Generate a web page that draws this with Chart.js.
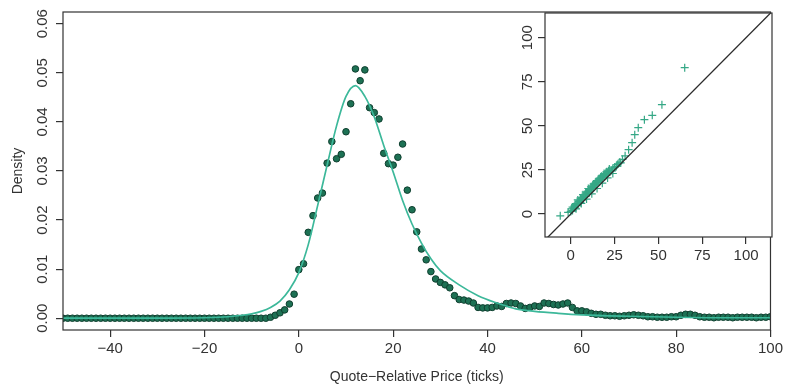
<!DOCTYPE html>
<html>
<head>
<meta charset="utf-8">
<script src="https://cdn.jsdelivr.net/npm/chart.js@4.4.0/dist/chart.umd.min.js"></script>
<style>
  html, body { margin: 0; padding: 0; background: #fff; }
  #wrap { position: relative; width: 786px; height: 384px; }
  #main { position: absolute; left: 0; top: 0; }
  #inset { position: absolute; left: 500px; top: 0; }
</style>
</head>
<body>
<div id="wrap">
  <canvas id="main" width="786" height="384"></canvas>
  <canvas id="inset" width="286" height="275"></canvas>
</div>
<script>
// observed density, one point per tick from -50 to 100
const priceStart = -50;
const density = [
  0, 0, 0, 0, 0, 0, 0, 0, 0, 0,
  0, 0, 0, 0, 0, 0, 0, 0, 0, 0,
  0, 0, 0, 0, 0, 0, 0, 0, 0, 0,
  0, 0, 0, 0, 0, 0, 0, 0, 0, 0,
  0, 0, 0, 0,
  0.0002, 0.0006, 0.0011, 0.0017, 0.0029, 0.0049,
  0.0099, 0.0111, 0.0175, 0.0209, 0.0245, 0.0255, 0.0316, 0.0360, 0.0325, 0.0334,
  0.0380, 0.0437, 0.0508, 0.0484, 0.0506, 0.0429, 0.0419, 0.0406, 0.0336, 0.0315,
  0.0312, 0.0328, 0.0355, 0.0261, 0.0221, 0.0176, 0.0141, 0.0119, 0.0095, 0.0080,
  0.0073, 0.0068, 0.0062, 0.0046, 0.0038, 0.0037, 0.0035, 0.0031, 0.0022, 0.0021,
  0.0021, 0.0022, 0.0025, 0.0024, 0.0030, 0.0031, 0.0030, 0.0025, 0.0020, 0.0022,
  0.0025, 0.0024, 0.0031, 0.0030, 0.0028, 0.0027, 0.0029, 0.0031, 0.0022, 0.0015,
  0.0015, 0.0013, 0.0010, 0.0008, 0.0008, 0.0006, 0.0005, 0.0005, 0.0004, 0.0005,
  0.0006, 0.0007, 0.0006, 0.0005, 0.0003, 0.0003, 0.0002, 0.0002, 0.0002, 0.0003,
  0.0003, 0.0006, 0.0008, 0.0008, 0.0006, 0.0003, 0.0002, 0.0002, 0.0001, 0.0002,
  0.0002, 0.0002, 0.0001, 0.0002, 0.0002, 0.0002, 0.0002, 0.0001, 0.0002, 0.0002,
  0.0003
];
const priceX = density.map((d, i) => priceStart + i);

// fitted density curve
const fitX = [-50, -30, -20, -15, -12, -10, -8, -6, -4, -2, 0, 2, 4, 6, 8, 10, 12, 14, 16, 18,
  20, 22, 24, 26, 28, 30, 34, 38, 42, 46, 50, 55, 60, 70, 80, 90, 100];
const fitY = [0, 0, 0.0001, 0.0003, 0.0006, 0.0009, 0.0014, 0.0022, 0.0035, 0.0058, 0.0093,
  0.0150, 0.0230, 0.0312, 0.0392, 0.0452, 0.0474, 0.0452, 0.0410, 0.0352, 0.0298, 0.0240,
  0.0192, 0.0153, 0.0121, 0.0097, 0.0068, 0.0046, 0.0031, 0.0019, 0.0014, 0.0010, 0.0007,
  0.0004, 0.0002, 0.0001, 0.0001];

// QQ inset: theoretical vs sample quantiles
const qqTheo = [-6, -1.5, 0, 0.5, 1, 1.5, 2, 2.5, 3, 3.5, 4, 4.5, 5, 5.5, 6, 6.5, 7, 7.5, 8, 8.5,
  9, 9.5, 10, 10.5, 11, 11.5, 12, 12.5, 13, 13.5, 14, 14.5, 15, 15.5, 16, 16.5, 17, 17.5, 18,
  18.5, 19, 19.5, 20, 20.5, 21, 21.5, 22, 23, 23.5, 24, 25, 26, 26.5, 27, 28, 28.5, 29.5, 31,
  33, 35, 36.5, 38.5, 42, 46.5, 52, 65,
  1, 2.5, 4, 5.5, 7, 8.5, 10, 11.5, 13, 14.5, 16, 17.5, 19, 20.5, 22, 3, 6, 9, 12, 15, 18, 21, 24];
const qqSample = [-1, 1, 1.5, 3, 2, 3.5, 4.5, 3.5, 5, 6, 5.5, 7, 7.5, 6.5, 8.5, 9.5, 8.5, 10, 11, 10,
  12, 11.5, 13, 12.5, 14, 13.5, 15, 16, 15, 17, 17.5, 16.5, 18, 19, 18.5, 20, 20.5, 19.5, 21,
  22, 21.5, 22.5, 23, 22, 23.5, 24.5, 24, 25, 24.5, 26, 26.5, 27, 28, 28.5, 29.5, 29, 31, 33,
  36.5, 40.5, 45, 49, 53.5, 56, 62, 83,
  4, 5.5, 8, 9, 11, 12.5, 14.5, 15.5, 17, 18.5, 20, 21.5, 23, 24, 25.5, 3, 6, 8.5, 11.5, 14.5, 17.5, 20.5, 23];

const xTicks = [-40, -20, 0, 20, 40, 60, 80, 100];
const yTicks = [0, 0.01, 0.02, 0.03, 0.04, 0.05, 0.06];
const qqTicks = [0, 25, 50, 75, 100];

const fontFamily = "'Liberation Sans', Arial, Helvetica, sans-serif";
const axisColor = '#333';

const boxPlugin = {
  id: 'box',
  beforeDraw(chart, args, opts) {
    if (opts.fill) {
      const a = chart.chartArea;
      chart.ctx.save();
      chart.ctx.fillStyle = '#fff';
      chart.ctx.fillRect(a.left, a.top, a.right - a.left, a.bottom - a.top);
      chart.ctx.restore();
    }
  },
  afterDraw(chart, args, opts) {
    const ctx = chart.ctx;
    const a = chart.chartArea;
    ctx.save();
    ctx.strokeStyle = axisColor;
    ctx.lineWidth = 1.2;
    ctx.strokeRect(a.left, a.top, a.right - a.left, a.bottom - a.top);
    // rotated y tick labels, R style
    const ys = chart.scales.y;
    ctx.fillStyle = axisColor;
    ctx.font = opts.size + 'px ' + fontFamily;
    ctx.textAlign = 'center';
    ctx.textBaseline = 'middle';
    opts.ticks.forEach(v => {
      ctx.save();
      ctx.translate(opts.labelX, ys.getPixelForValue(v));
      ctx.rotate(-Math.PI / 2);
      ctx.fillText(opts.fmt(v), 0, 0);
      ctx.restore();
    });
    if (opts.title) {
      ctx.save();
      ctx.font = '14px ' + fontFamily;
      ctx.translate(opts.titleX, (a.top + a.bottom) / 2);
      ctx.rotate(-Math.PI / 2);
      ctx.fillText(opts.title, 0, 0);
      ctx.restore();
    }
    ctx.restore();
  }
};

function tickScale(values, min, max, width, height, size) {
  return {
    type: 'linear',
    min: min,
    max: max,
    afterBuildTicks: s => { s.ticks = values.map(v => ({ value: v })); },
    afterFit: s => {
      if (width) s.width = width;
      if (height) s.height = height;
    },
    border: { display: false },
    grid: { drawOnChartArea: false, drawTicks: true, tickLength: 7, color: axisColor, lineWidth: 1.2 },
    ticks: { color: axisColor, padding: 3, font: { family: fontFamily, size: size } }
  };
}

const mainX = tickScale(xTicks, -50, 100, 0, 54, 15);
mainX.title = {
  display: true,
  text: 'Quote\u2212Relative Price (ticks)',
  color: axisColor,
  padding: 0,
  font: { family: fontFamily, size: 14, lineHeight: 1 }
};
mainX.ticks.callback = v => String(v).replace('-', '\u2212');
const mainY = tickScale(yTicks, -0.0024, 0.0624, 63, 0, 15);
mainY.ticks.display = false;

new Chart(document.getElementById('main'), {
  data: {
    datasets: [
      {
        type: 'line',
        label: 'fit',
        data: fitX.map((x, i) => ({ x: x, y: fitY[i] })),
        borderColor: '#3cb89a',
        borderWidth: 1.7,
        pointRadius: 0,
        cubicInterpolationMode: 'monotone',
        order: 0
      },
      {
        type: 'scatter',
        label: 'density',
        data: priceX.map((x, i) => ({ x: x, y: density[i] })),
        pointRadius: 3.3,
        backgroundColor: '#1d7154',
        borderColor: '#0f3f2f',
        borderWidth: 1,
        order: 1
      }
    ]
  },
  options: {
    responsive: false,
    animation: false,
    layout: { padding: { top: 12, right: 14, left: 0, bottom: 0 } },
    plugins: {
      legend: { display: false },
      tooltip: { enabled: false },
      box: { ticks: yTicks, fmt: v => v.toFixed(2), labelX: 43, size: 15, title: 'Density', titleX: 18 }
    },
    scales: { x: mainX, y: mainY }
  },
  plugins: [boxPlugin]
});

const insetX = tickScale(qqTicks, -14.7, 114.8, 0, 38, 15);
const insetY = tickScale(qqTicks, -13, 114, 45, 0, 15);
insetY.ticks.display = false;

new Chart(document.getElementById('inset'), {
  data: {
    datasets: [
      {
        type: 'line',
        label: 'y = x',
        data: [{ x: -20, y: -20 }, { x: 130, y: 130 }],
        borderColor: '#2b2b2b',
        borderWidth: 1.3,
        pointRadius: 0,
        order: 0
      },
      {
        type: 'scatter',
        label: 'qq',
        data: qqTheo.map((x, i) => ({ x: x, y: qqSample[i] })),
        pointStyle: 'cross',
        pointRadius: 4,
        borderColor: '#35a886',
        borderWidth: 1.2,
        order: 1
      }
    ]
  },
  options: {
    responsive: false,
    animation: false,
    layout: { padding: { top: 13, right: 14, left: 0, bottom: 0 } },
    plugins: {
      legend: { display: false },
      tooltip: { enabled: false },
      box: { fill: true, ticks: qqTicks, fmt: v => String(v), labelX: 28, size: 15 }
    },
    scales: { x: insetX, y: insetY }
  },
  plugins: [boxPlugin]
});
</script>
</body>
</html>
